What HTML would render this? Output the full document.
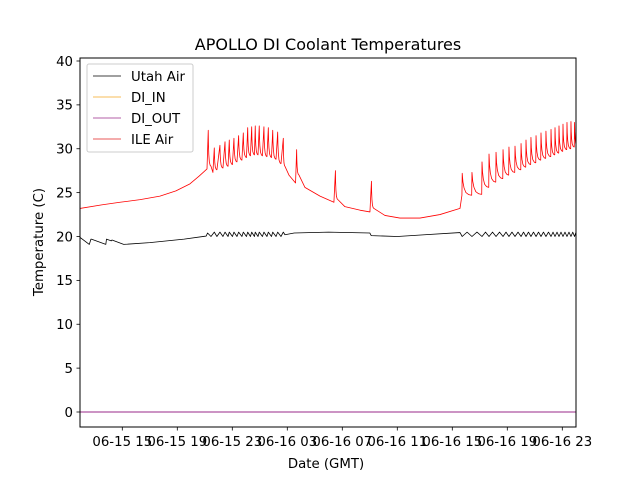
<!DOCTYPE html>
<html><head><meta charset="utf-8"><style>
body{margin:0;background:#fff;}
svg{display:block;font-family:"DejaVu Sans","Liberation Sans",sans-serif;}
</style></head><body>
<svg id="chart" width="640" height="480" viewBox="0 0 640 480">
<rect x="0" y="0" width="640" height="480" fill="#fff"/>
<text x="328" y="50" font-size="16" text-anchor="middle">APOLLO DI Coolant Temperatures</text>
<g id="plot" clip-path="url(#clip)"></g>
<clipPath id="clip"><rect x="80" y="58" width="496" height="369"/></clipPath>
<g id="axes"></g>
<text x="326" y="468" font-size="13.3" text-anchor="middle">Date (GMT)</text>
<text transform="translate(43,242) rotate(-90)" font-size="13.3" text-anchor="middle">Temperature (C)</text>
<g>
<rect x="87" y="64" width="106" height="88" fill="#fff" fill-opacity="0.8" stroke="#ccc" rx="2"/>
<line x1="93" y1="76" x2="121" y2="76" stroke="#000" stroke-width="0.8"/>
<text x="131" y="81" font-size="13.3">Utah Air</text>
<line x1="93" y1="97" x2="121" y2="97" stroke="#f5a623" stroke-width="0.8"/>
<text x="131" y="102" font-size="13.3">DI_IN</text>
<line x1="93" y1="118" x2="121" y2="118" stroke="#9a2a8a" stroke-width="0.8"/>
<text x="131" y="123" font-size="13.3">DI_OUT</text>
<line x1="93" y1="139" x2="121" y2="139" stroke="#e02020" stroke-width="0.8"/>
<text x="131" y="144" font-size="13.3">ILE Air</text>
</g>
</svg>
<script>
// hours since 06-15 00:00 GMT
const xTickHours = [15,19,23,27,31,35,39,43,47];
const xTickLabels = ["06-15 15","06-15 19","06-15 23","06-16 03","06-16 07","06-16 11","06-16 15","06-16 19","06-16 23"];
const yTicks = [0,5,10,15,20,25,30,35,40];
const redHours = [11.92,13.5,14.83,16.3,17.74,18.9,19.92,20.6,21.16,21.25,21.45,21.59,21.69,21.88,22.10,22.32,22.47,22.69,22.78,23.01,23.12,23.34,23.46,23.70,23.80,24.03,24.12,24.32,24.41,24.61,24.67,24.87,24.96,25.19,25.30,25.52,25.62,25.85,25.94,26.18,26.30,26.54,26.71,26.83,27.12,27.60,27.68,27.85,28.28,29.38,30.39,30.50,30.68,31.19,32.28,33.01,33.12,33.30,34.10,35.19,36.65,38.10,39.56];
const redVals = [23.2,23.6,23.9,24.2,24.6,25.2,26.0,26.9,27.7,32.1,28.0,27.3,30.1,27.6,30.4,27.8,30.8,28.0,31.0,28.2,31.2,28.5,31.5,28.7,31.8,29.0,32.4,29.2,32.5,29.3,32.6,29.3,32.6,29.2,32.5,29.1,32.4,29.0,32.1,28.8,31.9,28.3,31.2,28.0,27.0,26.1,29.9,27.0,25.6,24.6,23.9,27.5,24.2,23.4,23.0,22.8,26.3,23.2,22.4,22.1,22.1,22.5,23.2];
const spike2Hours = [39.72,40.43,41.16,41.67,42.18,42.69,43.12,43.56,44.00,44.36,44.72,45.09,45.45,45.81,46.18,46.47,46.76,47.05,47.34,47.63,47.89];
const spike2Peaks = [27.2,27.3,28.5,29.4,29.6,29.9,30.2,30.3,30.6,31.0,31.3,31.5,31.8,32.0,32.2,32.4,32.6,32.8,33.0,33.1,33.0];
const spike2Troughs = [24.7,24.8,25.6,26.2,26.6,27.0,27.3,27.6,27.9,28.2,28.4,28.7,28.9,29.1,29.3,29.5,29.7,29.9,30.0,30.2,30.3];
const blackHours = [11.92,12.6,12.72,12.75,13.8,13.85,14.20,14.25,15.1,17.0,19.5,21.1,21.2];
const blackVals = [19.9,19.1,19.7,19.7,19.1,19.7,19.5,19.6,19.1,19.3,19.7,20.05,20.4];
const black1Hours = [21.45,21.69,21.88,22.10,22.32,22.47,22.69,22.78,23.01,23.12,23.34,23.46,23.70,23.80,24.03,24.12,24.32,24.41,24.61,24.67,24.87,24.96,25.19,25.30,25.52,25.62,25.85,25.94,26.18,26.30,26.54,26.71,26.83,27.5,30.0,33.0,33.1,35.0,37.0,39.56];
const black1Vals = [20.0,20.5,20.0,20.5,20.0,20.5,20.0,20.5,20.0,20.5,20.0,20.5,20.0,20.5,20.0,20.5,20.0,20.5,20.0,20.5,20.0,20.5,20.0,20.5,20.0,20.5,20.0,20.5,20.0,20.5,20.0,20.5,20.2,20.4,20.5,20.4,20.1,20.0,20.2,20.45];
const blackOscHigh = 20.5, blackOscLow = 20.0;
const diInVals = [0,0];
const diOutVals = [0,0];
const rangeHours = [11.92,48.0];

const X0=80,X1=576,Y0=58,Y1=427;
function xs(h){return 122.3+(h-15)*13.75;}
function ys(v){return 412-v*8.775;}
const NS="http://www.w3.org/2000/svg";
const plot=document.getElementById('plot'), axes=document.getElementById('axes');
function mk(tag,attrs,parent){const e=document.createElementNS(NS,tag);for(const k in attrs)e.setAttribute(k,attrs[k]);parent.appendChild(e);return e;}
function path(pts,color,name,w){
  const d=pts.map((p,i)=>(i?'L':'M')+xs(p[0]).toFixed(2)+','+ys(p[1]).toFixed(2)).join('');
  const e=mk('path',{d:d,fill:'none',stroke:color,'stroke-width':w||0.8,'stroke-linejoin':'round'},plot);
  
  
}
// decay shape after a peak: quick drop then slow tail
function decay(pts,t0,v0,t1,v1){
  const fr=[0.08,0.2,0.4,0.7];
  pts.push([t0,v0]);
  fr.forEach(f=>{const k=Math.exp(-5*f);pts.push([t0+(t1-t0)*f,v1+(v0-v1)*k*0.9]);});
  pts.push([t1,v1]);
}
path(rangeHours.map((h,i)=>[h,diInVals[i]]),'#f5a623','di-in-line',1);
path(rangeHours.map((h,i)=>[h,diOutVals[i]]),'#9a2a8a','di-out-line',1);
// Utah Air
let bp=blackHours.map((h,i)=>[h,blackVals[i]]);
black1Hours.forEach((h,i)=>bp.push([h,black1Vals[i]]));
spike2Hours.forEach((h,i)=>{bp.push([h,blackOscLow]);const n=i+1<spike2Hours.length?spike2Hours[i+1]:48.1;bp.push([(h+n)/2,blackOscHigh]);});
path(bp,'#000','utah-air-line');
// ILE Air
let rp=[];
for(let i=0;i<redHours.length;i++){
  const v=redVals[i];
  const isPeak=i>0&&i<redHours.length-1&&v>redVals[i-1]+1.5&&v>redVals[i+1];
  if(isPeak){decay(rp,redHours[i],v,redHours[i+1],redVals[i+1]);i++;}
  else rp.push([redHours[i],v]);
}
spike2Hours.forEach((h,i)=>{
  rp.push([h-0.02,spike2Troughs[Math.max(0,i-1)]]);
  const n=i+1<spike2Hours.length?spike2Hours[i+1]-0.03:48.1;
  decay(rp,h,spike2Peaks[i],n,spike2Troughs[i]);
});
path(rp,'#ff0000','ile-air-line');
const fr=mk('rect',{x:X0,y:Y0,width:X1-X0,height:Y1-Y0,fill:'none',stroke:'#000','stroke-width':1},axes);


yTicks.forEach(v=>{
  const y=ys(v);
  mk('line',{x1:X0-3.5,x2:X0,y1:y,y2:y,stroke:'#000','stroke-width':0.8},axes);
  const t=mk('text',{x:X0-7,y:y+4.8,'font-size':13.3,'text-anchor':'end'},axes);
  t.textContent=v;
  
  
});
xTickHours.forEach((h,i)=>{
  const x=xs(h);
  mk('line',{x1:x,x2:x,y1:Y1,y2:Y1+3.5,stroke:'#000','stroke-width':0.8},axes);
  const t=mk('text',{x:x,y:Y1+19,'font-size':13.3,'text-anchor':'middle'},axes);
  t.textContent=xTickLabels[i];
  
  
});
</script>
</body></html>
